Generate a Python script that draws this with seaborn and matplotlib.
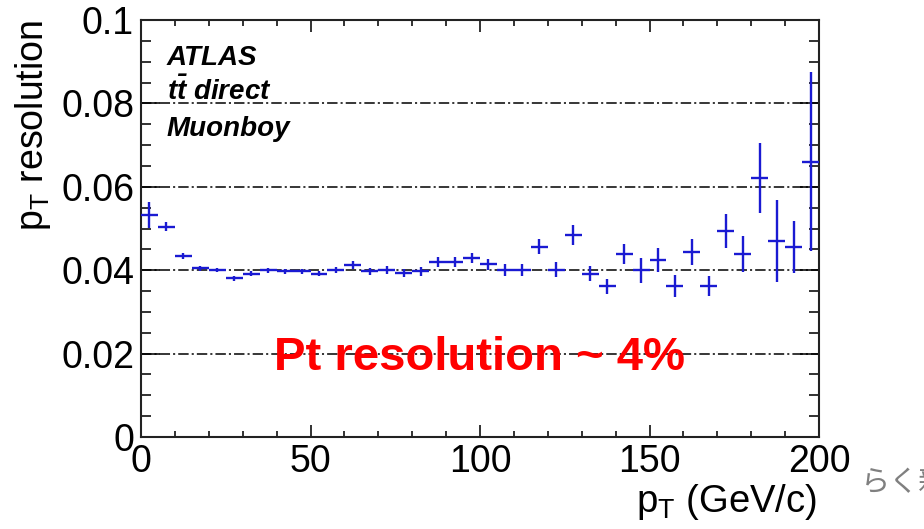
import matplotlib
matplotlib.use("Agg")
import matplotlib.pyplot as plt
from matplotlib.ticker import MultipleLocator, FixedLocator, FuncFormatter
import pandas as pd
import seaborn as sns

# Muon transverse-momentum resolution vs pT, 5 GeV bins
pt_centers = [2.5, 7.5, 12.5, 17.5, 22.5, 27.5, 32.5, 37.5, 42.5, 47.5,
              52.5, 57.5, 62.5, 67.5, 72.5, 77.5, 82.5, 87.5, 92.5, 97.5,
              102.5, 107.5, 112.5, 117.5, 122.5, 127.5, 132.5, 137.5, 142.5, 147.5,
              152.5, 157.5, 162.5, 167.5, 172.5, 177.5, 182.5, 187.5, 192.5, 197.5]
resolution = [0.0533, 0.0504, 0.0434, 0.0405, 0.0400, 0.0381, 0.0391, 0.0400, 0.0397, 0.0398,
              0.0392, 0.0400, 0.0413, 0.0397, 0.0401, 0.0394, 0.0397, 0.0420, 0.0420, 0.0429,
              0.0414, 0.0401, 0.0401, 0.0456, 0.0401, 0.0484, 0.0391, 0.0362, 0.0439, 0.0400,
              0.0424, 0.0362, 0.0444, 0.0362, 0.0494, 0.0439, 0.0621, 0.0470, 0.0456, 0.0660]
resolution_err = [0.0031, 0.0011, 0.0007, 0.0006, 0.0005, 0.0006, 0.0006, 0.0006, 0.0006, 0.0006,
                  0.0007, 0.0007, 0.0009, 0.0009, 0.0010, 0.0010, 0.0010, 0.0012, 0.0012, 0.0012,
                  0.0013, 0.0015, 0.0015, 0.0018, 0.0018, 0.0024, 0.0018, 0.0018, 0.0024, 0.0030,
                  0.0029, 0.0026, 0.0032, 0.0024, 0.0041, 0.0043, 0.0084, 0.0098, 0.0062, 0.0215]
bin_half_width = 2.5

y_ticks = [0, 0.02, 0.04, 0.06, 0.08, 0.1]
y_tick_labels = ["0", "0.02", "0.04", "0.06", "0.08", "0.1"]
x_ticks = [0, 50, 100, 150, 200]
grid_levels = [0.02, 0.04, 0.06, 0.08]
info_lines = ["ATLAS", r"$\mathbf{t\bar{t}}$ direct", "Muonboy"]

df = pd.DataFrame({"pt": pt_centers, "res": resolution, "err": resolution_err})

sns.set_theme(style="ticks")
plt.rcParams["font.family"] = ["Liberation Sans", "DejaVu Sans"]
plt.rcParams["mathtext.fontset"] = "custom"
plt.rcParams["mathtext.rm"] = "Liberation Sans"
plt.rcParams["mathtext.it"] = "Liberation Sans:italic"
plt.rcParams["mathtext.bf"] = "Liberation Sans:italic:bold"
plt.rcParams["lines.scale_dashes"] = False

W, H = 924, 529
fig = plt.figure(figsize=(W / 100, H / 100), dpi=100)
fig.patch.set_facecolor("white")
ax = fig.add_axes([141 / W, 1 - 437 / H, (819 - 141) / W, (437 - 20) / H])
ax.set_facecolor("white")

blue = "#1a1ad2"

# dash-dot reference lines
for lvl in grid_levels:
    ax.axhline(lvl, color="black", lw=1.1, dashes=(7.5, 2.2, 1.5, 2.2), zorder=1)

ax.errorbar(df["pt"], df["res"], xerr=bin_half_width, yerr=df["err"],
            fmt="none", ecolor=blue, elinewidth=1.7, capsize=0, zorder=3)

ax.set_xlim(0, 200)
ax.set_ylim(0, 0.1)
ax.xaxis.set_major_locator(FixedLocator(x_ticks))
ax.xaxis.set_minor_locator(MultipleLocator(10))
ax.yaxis.set_major_locator(FixedLocator(y_ticks))
ax.yaxis.set_minor_locator(MultipleLocator(0.005))
ax.yaxis.set_major_formatter(FuncFormatter(lambda v, p: y_tick_labels[y_ticks.index(round(v, 3))]
                                           if round(v, 3) in y_ticks else ""))

for s in ax.spines.values():
    s.set_visible(True)
    s.set_linewidth(1.5)
    s.set_color("#222222")

ax.tick_params(axis="both", which="both", direction="in", colors="#222222",
               top=True, right=True, labelsize=27, labelcolor="black")
ax.tick_params(axis="x", which="major", length=8.6, width=1.3, pad=5)
ax.tick_params(axis="x", which="minor", length=4.3, width=1.3)
ax.tick_params(axis="y", which="major", length=14, width=1.3, pad=5)
ax.tick_params(axis="y", which="minor", length=7.2, width=1.3)
ax.set_xlabel("")
ax.set_ylabel("")

# axis titles, ROOT style (right / top aligned)
fig.text(817 / W, 1 - 512 / H, r"p$_{\mathrm{T}}$ (GeV/c)", ha="right", va="baseline",
         fontsize=27.5, color="black")
fig.text(53 / W, 1 - 20 / H, r"p$_{\mathrm{T}}$ resolution", ha="right", va="top",
         rotation=90, fontsize=27, color="black")

# info block
baselines = [65, 100, 136]
for txt, yb in zip(info_lines, baselines):
    fig.text(167 / W, 1 - yb / H, txt, ha="left", va="baseline", fontsize=20,
             fontweight="bold", fontstyle="italic", color="black", zorder=5)

ax.text(100, 0.0161, "Pt resolution ~ 4%", ha="center", va="baseline",
        fontsize=34, fontweight="bold", color="#ff0000", zorder=6)

fig.text(861 / W, 1 - 484 / H, "らく新", ha="left", va="center", fontsize=21,
         color="#808080", family=["Noto Sans CJK JP", "DejaVu Sans"])

fig.savefig("out.png", dpi=100, facecolor="white")
